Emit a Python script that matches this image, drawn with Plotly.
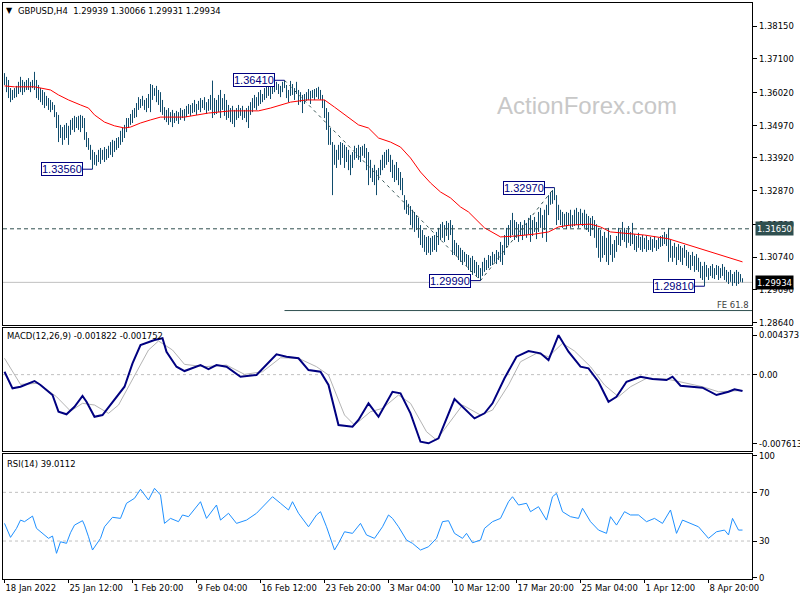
import plotly.graph_objects as go

# ---------------- data ----------------
bar_high = [
 1.3664,1.3652,1.3642,1.3616,1.3610,1.3616,1.3623,1.3636,1.3652,1.3642,
 1.3636,1.3642,1.3648,1.3636,1.3642,1.3668,1.3642,1.3626,1.3616,1.3610,
 1.3603,1.3591,1.3584,1.3578,1.3571,1.3562,1.3539,1.3530,1.3498,1.3491,
 1.3498,1.3504,1.3495,1.3514,1.3520,1.3527,1.3523,1.3527,1.3530,1.3527,
 1.3520,1.3475,1.3456,1.3434,1.3418,1.3411,1.3402,1.3418,1.3424,1.3418,
 1.3427,1.3421,1.3431,1.3443,1.3450,1.3447,1.3456,1.3459,1.3479,1.3488,
 1.3498,1.3520,1.3520,1.3533,1.3546,1.3552,1.3568,1.3587,1.3581,1.3591,
 1.3578,1.3584,1.3597,1.3629,1.3626,1.3616,1.3623,1.3610,1.3603,1.3578,
 1.3555,1.3546,1.3552,1.3539,1.3546,1.3536,1.3543,1.3539,1.3552,1.3546,
 1.3549,1.3559,1.3565,1.3562,1.3568,1.3578,1.3565,1.3575,1.3584,1.3578,
 1.3587,1.3571,1.3581,1.3594,1.3640,1.3584,1.3578,1.3594,1.3610,1.3584,
 1.3597,1.3578,1.3562,1.3552,1.3559,1.3546,1.3552,1.3562,1.3552,1.3559,
 1.3546,1.3552,1.3559,1.3571,1.3584,1.3594,1.3587,1.3603,1.3610,1.3597,
 1.3616,1.3623,1.3632,1.3623,1.3636,1.3629,1.3636,1.3629,1.3623,1.3636,
 1.3641,1.3626,1.3610,1.3639,1.3629,1.3616,1.3636,1.3610,1.3603,1.3594,
 1.3597,1.3603,1.3613,1.3607,1.3610,1.3613,1.3616,1.3620,1.3610,1.3594,
 1.3578,1.3552,1.3539,1.3488,1.3443,1.3434,1.3418,1.3434,1.3443,1.3440,
 1.3434,1.3427,1.3418,1.3402,1.3411,1.3431,1.3424,1.3434,1.3427,1.3431,
 1.3437,1.3424,1.3411,1.3386,1.3360,1.3370,1.3353,1.3360,1.3386,1.3402,
 1.3411,1.3418,1.3421,1.3402,1.3386,1.3370,1.3379,1.3360,1.3347,1.3328,
 1.3273,1.3257,1.3245,1.3238,1.3226,1.3219,1.3209,1.3200,1.3177,1.3161,
 1.3145,1.3139,1.3142,1.3136,1.3142,1.3145,1.3155,1.3168,1.3180,1.3187,
 1.3177,1.3190,1.3184,1.3193,1.3177,1.3129,1.3120,1.3113,1.3104,1.3097,
 1.3091,1.3084,1.3081,1.3072,1.3078,1.3065,1.3059,1.3049,1.3039,1.3059,
 1.3072,1.3065,1.3081,1.3078,1.3091,1.3084,1.3097,1.3091,1.3123,1.3113,
 1.3145,1.3168,1.3177,1.3193,1.3216,1.3193,1.3187,1.3180,1.3187,1.3177,
 1.3193,1.3184,1.3200,1.3209,1.3193,1.3203,1.3187,1.3219,1.3232,1.3209,
 1.3226,1.3242,1.3273,1.3283,1.3289,1.3297,1.3273,1.3242,1.3226,1.3219,
 1.3213,1.3219,1.3216,1.3226,1.3209,1.3226,1.3232,1.3219,1.3229,1.3216,
 1.3226,1.3213,1.3206,1.3200,1.3206,1.3193,1.3180,1.3168,1.3161,1.3142,
 1.3155,1.3136,1.3168,1.3145,1.3116,1.3129,1.3142,1.3168,1.3161,1.3187,
 1.3168,1.3161,1.3174,1.3155,1.3184,1.3148,1.3142,1.3152,1.3139,1.3145,
 1.3136,1.3142,1.3129,1.3139,1.3132,1.3142,1.3129,1.3136,1.3142,1.3145,
 1.3155,1.3148,1.3168,1.3129,1.3110,1.3120,1.3107,1.3116,1.3110,1.3104,
 1.3113,1.3097,1.3091,1.3081,1.3091,1.3078,1.3084,1.3072,1.3059,1.3046,
 1.3059,1.3049,1.3039,1.3046,1.3052,1.3039,1.3049,1.3046,1.3039,1.3052,
 1.3043,1.3033,1.3027,1.3033,1.3020,1.3027,1.3033,1.3027,1.3020,1.30066,
]
bar_low = [
 1.3626,1.3603,1.3584,1.3571,1.3578,1.3584,1.3587,1.3597,1.3603,1.3594,
 1.3603,1.3610,1.3610,1.3603,1.3616,1.3610,1.3584,1.3578,1.3571,1.3562,
 1.3552,1.3559,1.3546,1.3539,1.3546,1.3523,1.3488,1.3443,1.3456,1.3434,
 1.3450,1.3456,1.3434,1.3466,1.3482,1.3475,1.3488,1.3482,1.3475,1.3488,
 1.3450,1.3427,1.3418,1.3386,1.3356,1.3370,1.3367,1.3379,1.3373,1.3386,
 1.3379,1.3386,1.3392,1.3402,1.3395,1.3411,1.3418,1.3424,1.3434,1.3443,
 1.3456,1.3475,1.3488,1.3498,1.3504,1.3520,1.3523,1.3546,1.3552,1.3559,
 1.3546,1.3539,1.3552,1.3539,1.3578,1.3591,1.3571,1.3562,1.3539,1.3530,
 1.3514,1.3507,1.3498,1.3507,1.3491,1.3504,1.3511,1.3501,1.3514,1.3520,
 1.3511,1.3523,1.3533,1.3527,1.3536,1.3539,1.3530,1.3546,1.3539,1.3552,
 1.3546,1.3533,1.3543,1.3546,1.3520,1.3530,1.3533,1.3539,1.3520,1.3546,
 1.3527,1.3514,1.3520,1.3507,1.3501,1.3491,1.3514,1.3520,1.3527,1.3514,
 1.3520,1.3507,1.3488,1.3530,1.3539,1.3552,1.3546,1.3559,1.3565,1.3571,
 1.3578,1.3584,1.3591,1.3581,1.3597,1.3603,1.3610,1.3597,1.3587,1.3603,
 1.3616,1.3584,1.3571,1.3591,1.3594,1.3578,1.3597,1.3562,1.3571,1.3536,
 1.3565,1.3575,1.3578,1.3565,1.3584,1.3578,1.3587,1.3581,1.3578,1.3552,
 1.3520,1.3482,1.3434,1.3434,1.3273,1.3370,1.3360,1.3386,1.3370,1.3392,
 1.3360,1.3379,1.3353,1.3337,1.3360,1.3386,1.3392,1.3386,1.3379,1.3399,
 1.3392,1.3353,1.3305,1.3328,1.3315,1.3305,1.3273,1.3321,1.3337,1.3353,
 1.3360,1.3370,1.3379,1.3347,1.3328,1.3315,1.3321,1.3305,1.3289,1.3273,
 1.3226,1.3213,1.3209,1.3177,1.3168,1.3155,1.3161,1.3136,1.3113,1.3104,
 1.3091,1.3081,1.3088,1.3081,1.3091,1.3097,1.3091,1.3113,1.3129,1.3136,
 1.3123,1.3142,1.3129,1.3145,1.3081,1.3081,1.3078,1.3065,1.3059,1.3049,
 1.3059,1.3046,1.3033,1.3027,1.3017,1.3023,1.3014,1.3007,1.2999,1.3014,
 1.3027,1.3033,1.3039,1.3046,1.3049,1.3059,1.3052,1.3065,1.3059,1.3049,
 1.3081,1.3104,1.3113,1.3136,1.3145,1.3129,1.3136,1.3123,1.3142,1.3129,
 1.3145,1.3136,1.3148,1.3123,1.3142,1.3155,1.3132,1.3155,1.3168,1.3136,
 1.3161,1.3123,1.3209,1.3242,1.3245,1.3257,1.3177,1.3193,1.3177,1.3168,
 1.3174,1.3164,1.3177,1.3168,1.3171,1.3174,1.3177,1.3168,1.3180,1.3174,
 1.3168,1.3161,1.3155,1.3142,1.3161,1.3136,1.3104,1.3072,1.3059,1.3072,
 1.3081,1.3059,1.3049,1.3081,1.3059,1.3072,1.3091,1.3113,1.3110,1.3129,
 1.3123,1.3104,1.3120,1.3110,1.3116,1.3097,1.3091,1.3104,1.3097,1.3091,
 1.3100,1.3091,1.3097,1.3097,1.3091,1.3104,1.3094,1.3100,1.3107,1.3110,
 1.3116,1.3110,1.3059,1.3072,1.3059,1.3072,1.3049,1.3065,1.3059,1.3049,
 1.3072,1.3046,1.3039,1.3033,1.3046,1.3027,1.3033,1.3027,1.3007,1.3001,
 1.2981,1.3011,1.3001,1.3014,1.3007,1.3004,1.3017,1.3001,1.3007,1.3014,
 1.3001,1.2995,1.2988,1.2995,1.2982,1.2991,1.2982,1.2988,1.2995,1.29931,
]

ma_idx = [0,5,15,18,23,27,32,38,42,45,50,55,60,63,68,73,78,90,102,113,127,133,143,151,
          160,165,170,177,182,187,193,198,203,208,213,218,223,228,232,240,248,256,265,
          272,277,283,293,298,303,308,320,332,342,353,362,369]
ma_val = [1.3623,1.3620,1.3620,1.3616,1.3610,1.3594,1.3578,1.3562,1.3552,1.3530,1.3507,
          1.3495,1.3488,1.3491,1.3504,1.3514,1.3523,1.3523,1.3536,1.3543,1.3543,1.3552,
          1.3571,1.3578,1.3578,1.3555,1.3530,1.3498,1.3488,1.3456,1.3443,1.3427,1.3392,
          1.3347,1.3312,1.3283,1.3264,1.3235,1.3219,1.3168,1.3139,1.3142,1.3148,1.3155,
          1.3171,1.3177,1.3180,1.3171,1.3155,1.3152,1.3145,1.3133,1.3113,1.3091,1.3075,
          1.3059]

macd_idx = [0,4,8,15,18,24,27,31,35,39,41,45,49,53,60,64,68,75,79,81,86,90,98,102,106,111,
            118,126,131,136,141,147,152,158,162,167,174,177,182,187,194,198,203,208,212,
            217,225,230,235,240,244,250,256,262,268,272,277,282,288,292,297,302,306,311,
            318,324,331,334,338,349,356,362,365,369]
macd_val = [0.00032,-0.00152,-0.00134,-0.00071,-0.00115,-0.00226,-0.00411,-0.00440,-0.00356,
            -0.00237,-0.00301,-0.00467,-0.00448,-0.00337,-0.00134,0.00125,0.00328,0.00384,
            0.00403,0.00254,0.00088,0.00040,0.00106,0.00062,0.00106,0.00088,-0.00023,
            -0.00004,0.00106,0.00225,0.00199,0.00181,0.00051,0.00032,-0.00115,-0.00559,
            -0.00578,-0.00503,-0.00318,-0.00467,-0.00190,-0.00207,-0.00429,-0.00744,
            -0.007613,-0.00706,-0.00271,-0.00374,-0.00485,-0.00429,-0.00318,-0.00041,
            0.00199,0.00262,0.00236,0.00162,0.004373,0.00254,0.00088,0.00070,-0.00079,
            -0.00301,-0.00245,-0.00079,-0.00023,-0.00049,-0.00060,-0.00023,-0.00123,
            -0.00145,-0.00226,-0.00190,-0.00163,-0.001822]
signal_idx = [0,8,17,26,33,39,45,52,57,64,72,77,84,90,100,111,120,129,138,147,156,162,170,
              175,183,189,197,203,211,216,222,229,238,244,252,258,266,272,279,285,293,300,
              307,313,321,331,336,349,357,369]
signal_val = [0.00181,-0.00108,-0.00096,-0.00245,-0.00404,-0.00318,-0.00337,-0.00429,
              -0.00337,-0.00060,0.00273,0.00373,0.00273,0.00114,0.00088,0.00106,0.00003,
              0.00032,0.00187,0.00181,0.00088,-0.00004,-0.00448,-0.00559,-0.00411,-0.00374,
              -0.00226,-0.00318,-0.00633,-0.00725,-0.00540,-0.00337,-0.00448,-0.00393,
              -0.00115,0.00143,0.00236,0.00199,0.00347,0.00262,0.00088,-0.00115,-0.00245,
              -0.00134,-0.00041,-0.00049,-0.00071,-0.00134,-0.00190,-0.001752]

rsi_idx = [0,3,6,8,10,14,16,19,22,24,26,28,31,33,35,39,40,42,44,48,50,54,58,61,65,68,72,75,
           78,80,83,87,89,92,96,98,101,103,106,108,112,116,121,126,130,134,138,142,144,147,
           152,156,158,161,165,167,170,174,178,181,185,189,192,194,197,201,204,208,212,216,
           219,222,225,229,231,234,238,240,244,248,252,254,257,261,263,267,271,274,276,279,
           283,287,289,293,297,301,303,306,310,313,317,321,325,329,333,336,339,343,347,352,
           356,360,362,364,367,369]
rsi_val = [44.5,33.0,40.4,47.2,45.9,50.5,40.4,36.3,32.2,34.1,19.9,29.4,28.1,36.8,43.1,46.7,
           43.1,33.5,22.6,32.2,41.7,49.5,48.6,61.0,65.1,72.5,63.7,73.3,67.8,44.5,48.6,45.9,
           51.4,50.0,58.2,62.3,48.6,52.8,59.6,47.2,52.8,44.5,47.2,52.8,59.6,66.4,61.0,55.5,
           62.3,52.8,41.7,51.4,54.1,41.7,22.6,28.1,37.6,36.3,44.5,35.0,32.2,41.7,51.4,48.6,
           41.7,30.8,28.1,22.6,25.3,32.2,45.9,46.7,36.3,32.2,36.3,28.6,30.8,40.4,45.9,48.6,
           62.3,66.4,59.6,61.0,54.1,58.2,47.2,66.4,69.2,54.1,50.0,48.6,56.9,45.9,39.0,36.3,
           50.0,43.1,54.1,51.4,51.4,45.9,48.6,44.5,55.5,36.3,47.2,44.5,41.7,32.2,37.6,39.0,
           35.0,48.6,39.0,39.0112]

tick_idx = [0, 32, 64, 96, 128, 160, 192, 224, 256, 288, 320, 352]
tick_labels = ["18 Jan 2022", "25 Jan 12:00", "1 Feb 20:00", "9 Feb 04:00", "16 Feb 12:00",
               "23 Feb 20:00", "3 Mar 04:00", "10 Mar 12:00", "17 Mar 20:00", "25 Mar 04:00",
               "1 Apr 12:00", "8 Apr 20:00"]
price_ticks = [1.38150, 1.37100, 1.36020, 1.34970, 1.33920, 1.32870, 1.31790, 1.30740,
               1.29690, 1.28640]
macd_ticks = [0.004373, 0.0, -0.007613]
macd_tick_text = ["0.004373", "0.00", "-0.007613"]
rsi_ticks = [100, 70, 30, 0]

swing_idx = [140, 44, 275, 238, 350]
swing_price = [1.36410, 1.33560, 1.32970, 1.29990, 1.29810]
fibo_idx = [140, 238, 275]
fibo_price = [1.36410, 1.29990, 1.32970]
fe_level = 1.2903
resistance = 1.31650
last_price = 1.29934
title_text = "GBPUSD,H4  1.29939 1.30066 1.29931 1.29934"

# ---------------- styling ----------------
BAR = "#104c6c"
NAVY = "#000080"
AXFONT = dict(family="Liberation Sans Narrow, DejaVu Sans Condensed, Liberation Sans",
              size=9.4, color="black")
PLOT_TOP, PLOT_BOT, PLOT_L, PLOT_W = 3, 579, 3, 749


def py(p):
    return (PLOT_BOT - p) / (PLOT_BOT - PLOT_TOP)


def px(p):
    return (p - PLOT_L) / PLOT_W


fig = go.Figure()

# price bars
bx, by = [], []
for i, (h, l) in enumerate(zip(bar_high, bar_low)):
    bx += [i, i, None]
    by += [h, l, None]
fig.add_trace(go.Scatter(x=bx, y=by, mode="lines", line=dict(color=BAR, width=1),
                         xaxis="x", yaxis="y", hoverinfo="skip"))
# moving average
fig.add_trace(go.Scatter(x=ma_idx, y=ma_val, mode="lines", line=dict(color="#ff0000", width=1),
                         xaxis="x", yaxis="y"))
# fibo expansion
fig.add_trace(go.Scatter(x=fibo_idx, y=fibo_price, mode="lines",
                         line=dict(color="#2f4f4f", width=1, dash="3px,4px"),
                         xaxis="x", yaxis="y"))
# FE 61.8 level
fig.add_trace(go.Scatter(x=[fibo_idx[0], 373.75], y=[fe_level, fe_level], mode="lines",
                         line=dict(color="#2f4f4f", width=1), xaxis="x", yaxis="y"))
# MACD
fig.add_trace(go.Scatter(x=signal_idx, y=signal_val, mode="lines",
                         line=dict(color="#b4b4b4", width=1), xaxis="x2", yaxis="y2"))
fig.add_trace(go.Scatter(x=macd_idx, y=macd_val, mode="lines",
                         line=dict(color=NAVY, width=2), xaxis="x2", yaxis="y2"))
# RSI
fig.add_trace(go.Scatter(x=rsi_idx, y=rsi_val, mode="lines",
                         line=dict(color="#1e90ff", width=1), xaxis="x3", yaxis="y3"))

xr = [-0.75, 373.75]
common_x = dict(range=xr, showline=True, mirror=True, linecolor="black", linewidth=1,
                showgrid=False, zeroline=False, fixedrange=True, automargin=False,
                tickangle=0)
common_y = dict(side="right", showline=True, mirror=True, linecolor="black", linewidth=1,
                showgrid=False, zeroline=False, ticks="outside", ticklen=4,
                tickcolor="black", tickfont=AXFONT, automargin=False, fixedrange=True)

main_dom = [py(325), 1.0]
macd_dom = [py(451), py(328)]
rsi_dom = [0.0, py(454)]

fig.update_layout(
    width=800, height=600,
    margin=dict(l=PLOT_L, r=800 - PLOT_L - PLOT_W, t=PLOT_TOP, b=600 - PLOT_BOT,
                autoexpand=False),
    paper_bgcolor="white", plot_bgcolor="white", showlegend=False,
    xaxis=dict(common_x, domain=[0, 1], anchor="y", showticklabels=False, ticks=""),
    xaxis2=dict(common_x, domain=[0, 1], anchor="y2", showticklabels=False, ticks=""),
    xaxis3=dict(common_x, domain=[0, 1], anchor="y3", tickvals=tick_idx, ticktext=tick_labels,
                ticks="outside", ticklen=3, tickcolor="black",
                ticklabelposition="outside right", tickfont=AXFONT),
    yaxis=dict(common_y, domain=main_dom, anchor="x", range=[1.28567, 1.38887],
               tickvals=price_ticks, ticktext=[f"{v:.5f}" for v in price_ticks]),
    yaxis2=dict(common_y, domain=macd_dom, anchor="x2", range=[-0.008467, 0.005171],
                tickvals=macd_ticks, ticktext=macd_tick_text),
    yaxis3=dict(common_y, domain=rsi_dom, anchor="x3", range=[-1.2, 101.5],
                tickvals=rsi_ticks, ticktext=[str(v) for v in rsi_ticks]),
)

shapes = [
    dict(type="line", xref="paper", x0=0, x1=1, yref="y", y0=resistance, y1=resistance,
         line=dict(color="#2f4f4f", width=1, dash="4px,3px")),
    dict(type="line", xref="paper", x0=0, x1=1, yref="y", y0=last_price, y1=last_price,
         line=dict(color="#c0c0c0", width=1), layer="below"),
    dict(type="line", xref="paper", x0=0, x1=1, yref="y2", y0=0, y1=0,
         line=dict(color="#c0c0c0", width=1, dash="3px,3px"), layer="below"),
]
for lv in (70, 30):
    shapes.append(dict(type="line", xref="paper", x0=0, x1=1, yref="y3", y0=lv, y1=lv,
                       line=dict(color="#c0c0c0", width=1, dash="3px,3px"), layer="below"))
fig.update_layout(shapes=shapes)

ann = []
for i, p in zip(swing_idx, swing_price):
    ann.append(dict(x=i, y=p, xref="x", yref="y", text=f"{p:.5f}", showarrow=True,
                    arrowhead=0, arrowwidth=1, arrowcolor=NAVY, ax=-31, ay=0,
                    axref="pixel", ayref="pixel", standoff=0,
                    font=dict(family="Liberation Sans", size=11, color=NAVY),
                    bgcolor="white", bordercolor=NAVY, borderwidth=1, borderpad=0))
# right-axis price boxes
ann.append(dict(x=px(755), y=resistance, xref="paper", yref="y", xanchor="left",
                yanchor="middle", text="1.31650", showarrow=False, bgcolor="#2f4f4f",
                borderpad=1, font=dict(AXFONT, color="white")))
ann.append(dict(x=px(755), y=last_price, xref="paper", yref="y", xanchor="left",
                yanchor="middle", text=f"{last_price:.5f}", showarrow=False, bgcolor="black",
                borderpad=1, font=dict(AXFONT, color="white")))


def label(x, y, text, font, xanchor="left"):
    return dict(x=px(x), y=py(y), xref="paper", yref="paper", xanchor=xanchor,
                yanchor="middle", text=text, showarrow=False, font=font)


ann.append(label(4, 10, "▼", dict(family="DejaVu Sans", size=8, color="black")))
ann.append(label(16, 10, title_text, AXFONT))
ann.append(label(5, 335, "MACD(12,26,9) -0.001822 -0.001752", AXFONT))
ann.append(label(5, 463, "RSI(14) 39.0112", AXFONT))
ann.append(label(751, 304, "FE 61.8", dict(AXFONT, color="#404040"), xanchor="right"))
ann.append(label(587, 106, "ActionForex.com",
                 dict(family="Liberation Sans", size=24, color="#c8c8c8"), xanchor="center"))
fig.update_layout(annotations=ann)

fig.write_html("out.html", config={"displayModeBar": False, "staticPlot": True},
               post_script="document.body.style.margin='0';document.body.style.padding='0';")
